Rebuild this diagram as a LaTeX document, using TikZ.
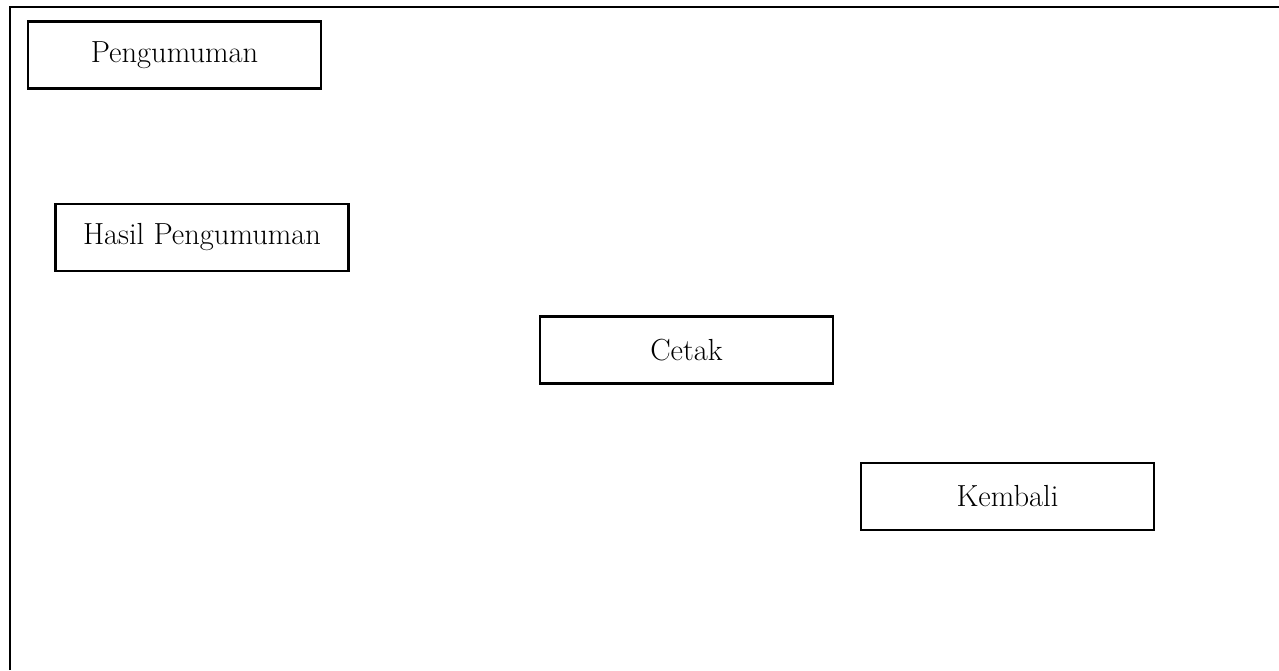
\documentclass[tikz,border=0pt]{standalone}
\usepackage{fontspec}
\begin{document}
\begin{tikzpicture}[x=1pt,y=-1pt,
  btn/.style={draw=black, line width=2.2pt, minimum width=293pt, minimum height=67pt, inner sep=0pt, font=\fontsize{30.5}{34}\selectfont}]
\useasboundingbox (0,0) rectangle (1279,670);
\draw[line width=2.8pt] (10,670) -- (10,7) -- (1279,7);
\node[btn] (peng) at (174.5,55) {Pengumuman};
\node[btn] (hasil) at (202,237.5) {Hasil Pengumuman};
\node[btn] (cetak) at (686.5,350) {Cetak};
\node[btn] (kembali) at (1007.5,496.5) {Kembali};
\end{tikzpicture}
\end{document}
